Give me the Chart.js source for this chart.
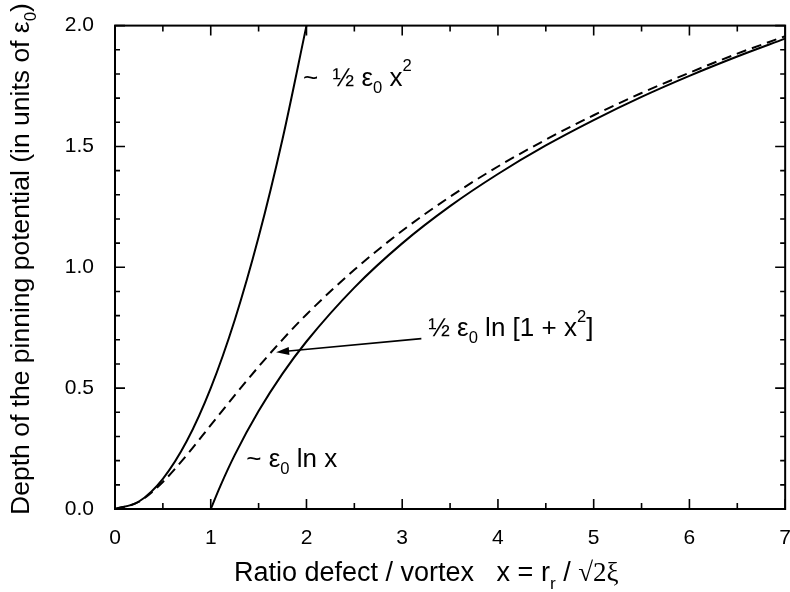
<!DOCTYPE html>
<html>
<head>
<meta charset="utf-8">
<script src="https://cdn.jsdelivr.net/npm/chart.js@4.4.1/dist/chart.umd.min.js"></script>
<style>
  html, body { margin: 0; padding: 0; overflow: hidden; background: #fff; }
  #wrap { position: relative; width: 800px; height: 592px; }
</style>
</head>
<body>
<div id="wrap"><canvas id="chart"></canvas></div>
<script>
// values
const xQuad = [0, 0.25, 0.5, 0.75, 1, 1.25, 1.5, 1.75, 2];
const yQuad = [0, 0.031, 0.125, 0.281, 0.5, 0.781, 1.125, 1.531, 2.0];

const xFull = [0, 0.25, 0.5, 0.75, 1, 1.25, 1.5, 1.75, 2, 2.5, 3, 3.5, 4, 4.5, 5, 5.5, 6, 6.5, 7];
const yFull = [0, 0.030, 0.112, 0.223, 0.347, 0.470, 0.589, 0.701, 0.805, 0.990, 1.151, 1.292, 1.417, 1.528, 1.629, 1.721, 1.805, 1.884, 1.956];

const xLog = [1, 1.1, 1.25, 1.5, 1.75, 2, 2.5, 3, 3.5, 4, 4.5, 5, 5.5, 6, 6.5, 7];
const yLog = [0, 0.095, 0.223, 0.405, 0.560, 0.693, 0.916, 1.099, 1.253, 1.386, 1.504, 1.609, 1.705, 1.792, 1.872, 1.946];

const xMajor = [0, 1, 2, 3, 4, 5, 6, 7];
const xMinor = [0.5, 1.5, 2.5, 3.5, 4.5, 5.5, 6.5];
const yMajor = [0, 0.5, 1.0, 1.5, 2.0];
const yMinor = [0.1, 0.2, 0.3, 0.4, 0.6, 0.7, 0.8, 0.9, 1.1, 1.2, 1.3, 1.4, 1.6, 1.7, 1.8, 1.9];

const SANS = '"Liberation Sans", Arial, sans-serif';
const SERIF = '"Liberation Serif", "Times New Roman", serif';
const TXT = 26;

function pts(xs, ys) {
  return xs.map((x, i) => ({ x: x, y: ys[i] }));
}

// draws a run of text pieces: [text, 'sub' | 'sup' | '', family]
function drawRich(ctx, parts, x, y, size, measureOnly) {
  let cx = x;
  for (const p of parts) {
    const kind = p[1] || '';
    const fam = p[2] || SANS;
    const s = kind ? size * 0.64 : size;
    ctx.font = s + 'px ' + fam;
    let dy = 0;
    if (kind === 'sub') dy = size * 0.28;
    if (kind === 'sup') dy = -size * 0.55;
    if (!measureOnly) ctx.fillText(p[0], cx, y + dy);
    cx += ctx.measureText(p[0]).width;
  }
  return cx - x;
}

const decor = {
  id: 'decor',
  afterDraw(chart) {
    const ctx = chart.ctx;
    const a = chart.chartArea;
    const xs = chart.scales.x;
    const ys = chart.scales.y;
    ctx.save();
    ctx.strokeStyle = '#000';
    ctx.fillStyle = '#000';
    ctx.lineWidth = 2;
    ctx.strokeRect(a.left, a.top, a.right - a.left, a.bottom - a.top);

    ctx.lineWidth = 1.6;
    ctx.beginPath();
    const tick = (vals, len) => {
      vals.forEach(v => {
        const px = xs.getPixelForValue(v);
        ctx.moveTo(px, a.bottom); ctx.lineTo(px, a.bottom - len);
        ctx.moveTo(px, a.top); ctx.lineTo(px, a.top + len);
      });
    };
    const ytick = (vals, len) => {
      vals.forEach(v => {
        const py = ys.getPixelForValue(v);
        ctx.moveTo(a.left, py); ctx.lineTo(a.left + len, py);
        ctx.moveTo(a.right, py); ctx.lineTo(a.right - len, py);
      });
    };
    tick(xMajor, 10); tick(xMinor, 6);
    ytick(yMajor, 10); ytick(yMinor, 5);
    ctx.stroke();

    ctx.textBaseline = 'alphabetic';
    ctx.textAlign = 'left';
    const X = v => xs.getPixelForValue(v);
    const Y = v => ys.getPixelForValue(v);

    // curve labels
    drawRich(ctx, [['~  \u00bd \u03b5'], ['0', 'sub'], [' x'], ['2', 'sup']], X(1.963), Y(1.752), TXT);
    drawRich(ctx, [['~ \u03b5'], ['0', 'sub'], [' ln x']], X(1.371), Y(0.174), TXT);
    drawRich(ctx, [['\u00bd \u03b5'], ['0', 'sub'], [' ln [1 + x'], ['2', 'sup'], [']']], X(3.271), Y(0.715), TXT);

    // arrow towards the dashed curve
    const tx = X(3.2), ty = Y(0.705), hx = X(1.683), hy = Y(0.649);
    const ang = Math.atan2(hy - ty, hx - tx);
    ctx.lineWidth = 1.6;
    ctx.beginPath();
    ctx.moveTo(tx, ty);
    ctx.lineTo(hx - 10 * Math.cos(ang), hy - 10 * Math.sin(ang));
    ctx.stroke();
    ctx.beginPath();
    ctx.moveTo(hx, hy);
    ctx.lineTo(hx - 13 * Math.cos(ang) + 4 * Math.sin(ang), hy - 13 * Math.sin(ang) - 4 * Math.cos(ang));
    ctx.lineTo(hx - 13 * Math.cos(ang) - 4 * Math.sin(ang), hy - 13 * Math.sin(ang) + 4 * Math.cos(ang));
    ctx.closePath();
    ctx.fill();

    // axis titles
    drawRich(ctx, [['Ratio defect / vortex   x = r'], ['r', 'sub'], [' / '], ['\u221a2\u03be', '', SERIF]], 234, 581, 27);

    const yParts = [['Depth of the pinning potential (in units of \u03b5'], ['0', 'sub'], [')']];
    const w = drawRich(ctx, yParts, 0, 0, 26.5, true);
    ctx.translate(29, 259);
    ctx.rotate(-Math.PI / 2);
    drawRich(ctx, yParts, -w / 2, 0, 26.5);
    ctx.restore();
  }
};

const lineStyle = {
  borderColor: '#000',
  borderWidth: 2,
  pointRadius: 0,
  fill: false,
  cubicInterpolationMode: 'monotone'
};

new Chart(document.getElementById('chart'), {
  type: 'line',
  data: {
    datasets: [
      Object.assign({ label: 'half x^2', data: pts(xQuad, yQuad) }, lineStyle),
      Object.assign({ label: 'half ln(1+x^2)', data: pts(xFull, yFull), borderDash: [10, 6] }, lineStyle),
      Object.assign({ label: 'ln x', data: pts(xLog, yLog) }, lineStyle)
    ]
  },
  options: {
    responsive: true,
    maintainAspectRatio: false,
    animation: false,
    events: [],
    layout: { padding: { top: 25, right: 11, left: 0, bottom: 0 } },
    plugins: { legend: { display: false }, tooltip: { enabled: false } },
    scales: {
      x: {
        type: 'linear', min: 0, max: 7,
        grid: { display: false },
        border: { display: false },
        afterBuildTicks: s => { s.ticks = xMajor.map(v => ({ value: v })); },
        afterFit: s => { s.height = 83; },
        ticks: {
          color: '#000', padding: 9, maxRotation: 0,
          font: { family: SANS, size: 21 },
          callback: v => String(v)
        }
      },
      y: {
        min: 0, max: 2,
        grid: { display: false },
        border: { display: false },
        afterBuildTicks: s => { s.ticks = yMajor.map(v => ({ value: v })); },
        afterFit: s => { s.width = 115; },
        ticks: {
          color: '#000', padding: 13,
          font: { family: SANS, size: 21 },
          callback: v => v.toFixed(1)
        }
      }
    }
  },
  plugins: [decor]
});
</script>
</body>
</html>
